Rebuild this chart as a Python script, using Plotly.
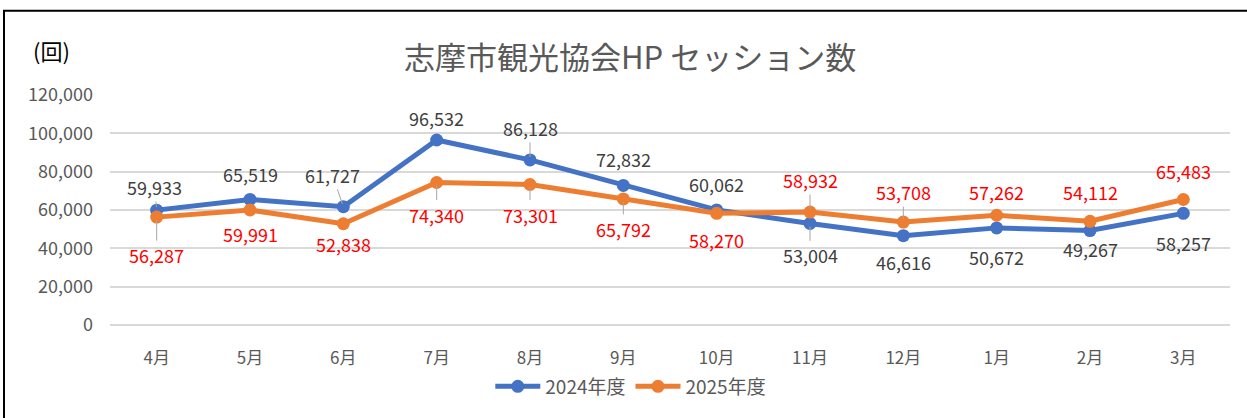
import plotly.graph_objects as go

months = ['4月', '5月', '6月', '7月', '8月', '9月', '10月', '11月', '12月', '1月', '2月', '3月']
sessions_2024 = [59933, 65519, 61727, 96532, 86128, 72832, 60062, 53004, 46616, 50672, 49267, 58257]
sessions_2025 = [56287, 59991, 52838, 74340, 73301, 65792, 58270, 58932, 53708, 57262, 54112, 65483]

# label offsets (px) from each point, and whether Excel drew a leader line
offsets_2024 = [(-2, -23), (0, -25), (-11, -32), (0, -22), (0, -32), (0, -26), (0, -26), (0, 32), (0, 26), (0, 29), (0, 18), (0, 30)]
leader_2024 = [True, False, True, False, True, False, False, True, False, False, False, False]
offsets_2025 = [(0, 38), (0, 24), (0, 20), (0, 32), (0, 30), (0, 30), (0, 27), (0, -32), (0, -30), (0, -23), (0, -29), (0, -28)]
leader_2025 = [True, False, False, True, True, True, False, True, True, False, False, False]

BLUE = '#4472C4'
ORANGE = '#ED7D31'
FONT = 'Noto Sans CJK JP'

fig = go.Figure()
fig.add_trace(go.Scatter(x = months, y = sessions_2024, mode = 'lines+markers', name = '2024年度',
                         line = dict(color = BLUE, width = 5), marker = dict(color = BLUE, size = 13)))
fig.add_trace(go.Scatter(x = months, y = sessions_2025, mode = 'lines+markers', name = '2025年度',
                         line = dict(color = ORANGE, width = 5), marker = dict(color = ORANGE, size = 13)))

annotations = []
for vals, offs, leads, col in [(sessions_2024, offsets_2024, leader_2024, '#404040'),
                                (sessions_2025, offsets_2025, leader_2025, '#FF0000')]:
    for m, v, (dx, dy), lead in zip(months, vals, offs, leads):
        annotations.append(dict(
            x = m, y = v, xref = 'x', yref = 'y', text = f'{v:,}', ax = dx, ay = dy,
            showarrow = True, arrowhead = 0, arrowwidth = 1, standoff = 3,
            arrowcolor = '#A6A6A6' if lead else 'rgba(0,0,0,0)',
            font = dict(family = FONT, size = 18, color = col)
        ))

# title and unit label
annotations.append(dict(x = (630 - 110) / 1120, y = (327 - 55) / 232, xref = 'paper', yref = 'paper',
                        xanchor = 'center', yanchor = 'middle',
                        text = '志摩市観光協会HP セッション数', showarrow = False,
                        font = dict(family = FONT, size = 31, color = '#595959')))
annotations.append(dict(x = (52 - 110) / 1120, y = (327 - 50) / 232, xref = 'paper', yref = 'paper', text = '(回)',
                        xanchor = 'center', yanchor = 'middle',
                        showarrow = False, font = dict(family = FONT, size = 22, color = '#000000')))

fig.update_layout(
    width = 1247, height = 418,
    margin = dict(l = 110, r = 17, t = 95, b = 91),
    paper_bgcolor = 'white', plot_bgcolor = 'white',
    showlegend = True,
    legend = dict(orientation = 'h', yanchor = 'middle', y = (327 - 389) / 232, xanchor = 'center', x = 0.465,
                  font = dict(family = FONT, size = 19, color = '#595959'), itemwidth = 45),
    xaxis = dict(range = [-0.5, 11.5], showgrid = False, showline = False, ticks = '', ticklabelstandoff = 21,
                 tickfont = dict(family = FONT, size = 17, color = '#595959')),
    yaxis = dict(range = [0, 120000], dtick = 20000, tickformat = ',', gridcolor = '#D9D9D9', gridwidth = 1.5,
                 zeroline = True, zerolinecolor = '#D9D9D9', zerolinewidth = 1.5, ticks = '', ticklabelstandoff = 16,
                 tickfont = dict(family = FONT, size = 18, color = '#595959')),
    annotations = annotations,
    shapes = [dict(type = 'rect', xref = 'paper', yref = 'paper', x0 = (4 - 110) / 1120, x1 = (1262 - 110) / 1120,
                   y0 = (327 - 430) / 232, y1 = (327 - 10) / 232, line = dict(color = 'black', width = 2))]
)

fig.write_html("out.html", config = {'displayModeBar': False},
               post_script = "document.body.style.margin = '0';")
